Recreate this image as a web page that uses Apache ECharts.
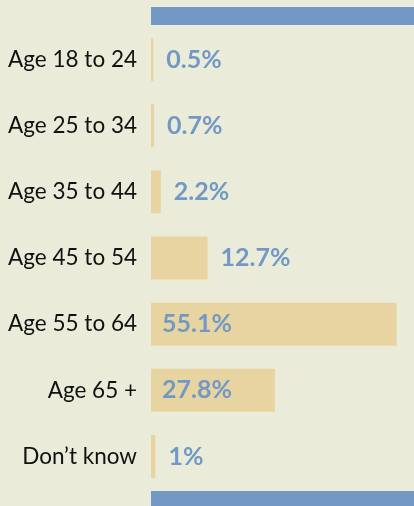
<!DOCTYPE html>
<html><head><meta charset="utf-8">
<script src="https://cdn.jsdelivr.net/npm/echarts@6/dist/echarts.min.js"></script>
<style>html,body{margin:0;padding:0;background:#eaecd9;}#c{width:414px;height:506px;}</style>
</head><body><div id="c"></div>
<script>
const categories = ["Age 18 to 24","Age 25 to 34","Age 35 to 44","Age 45 to 54","Age 55 to 64","Age 65 +","Don\u2019t know"];
const values = [0.5, 0.7, 2.2, 12.7, 55.1, 27.8, 1];
const labels = ["0.5%","0.7%","2.2%","12.7%","55.1%","27.8%","1%"];
const insideThreshold = 20;

const chart = echarts.init(document.getElementById('c'), null, {renderer:'canvas'});
chart.setOption({
  backgroundColor: '#eaecd9',
  animation: false,
  grid: {left: 151, right: 0, top: 26.4, bottom: 16.4, containLabel: false},
  xAxis: {type: 'value', min: 0, max: 59, show: false},
  yAxis: {
    type: 'category', data: categories, inverse: true,
    axisLine: {show: false}, axisTick: {show: false}, splitLine: {show: false},
    axisLabel: {color: '#111', fontFamily: 'Lato', fontSize: 22.5, margin: 14}
  },
  graphic: [
    {type: 'rect', left: 151, top: 7, shape: {width: 263, height: 18}, style: {fill: '#7299c6'}},
    {type: 'rect', left: 151, top: 491, shape: {width: 263, height: 15}, style: {fill: '#7299c6'}}
  ],
  series: [{
    type: 'bar', barWidth: 43,
    itemStyle: {color: '#e8d4a0'},
    data: values.map((v, i) => ({
      value: v,
      label: {
        show: true,
        position: v > insideThreshold ? 'insideLeft' : 'right',
        distance: v > insideThreshold ? 11 : 13,
        formatter: labels[i],
        color: '#7299c6', fontWeight: 'bold', fontFamily: 'Lato', fontSize: 25
      }
    }))
  }]
});
</script></body></html>
